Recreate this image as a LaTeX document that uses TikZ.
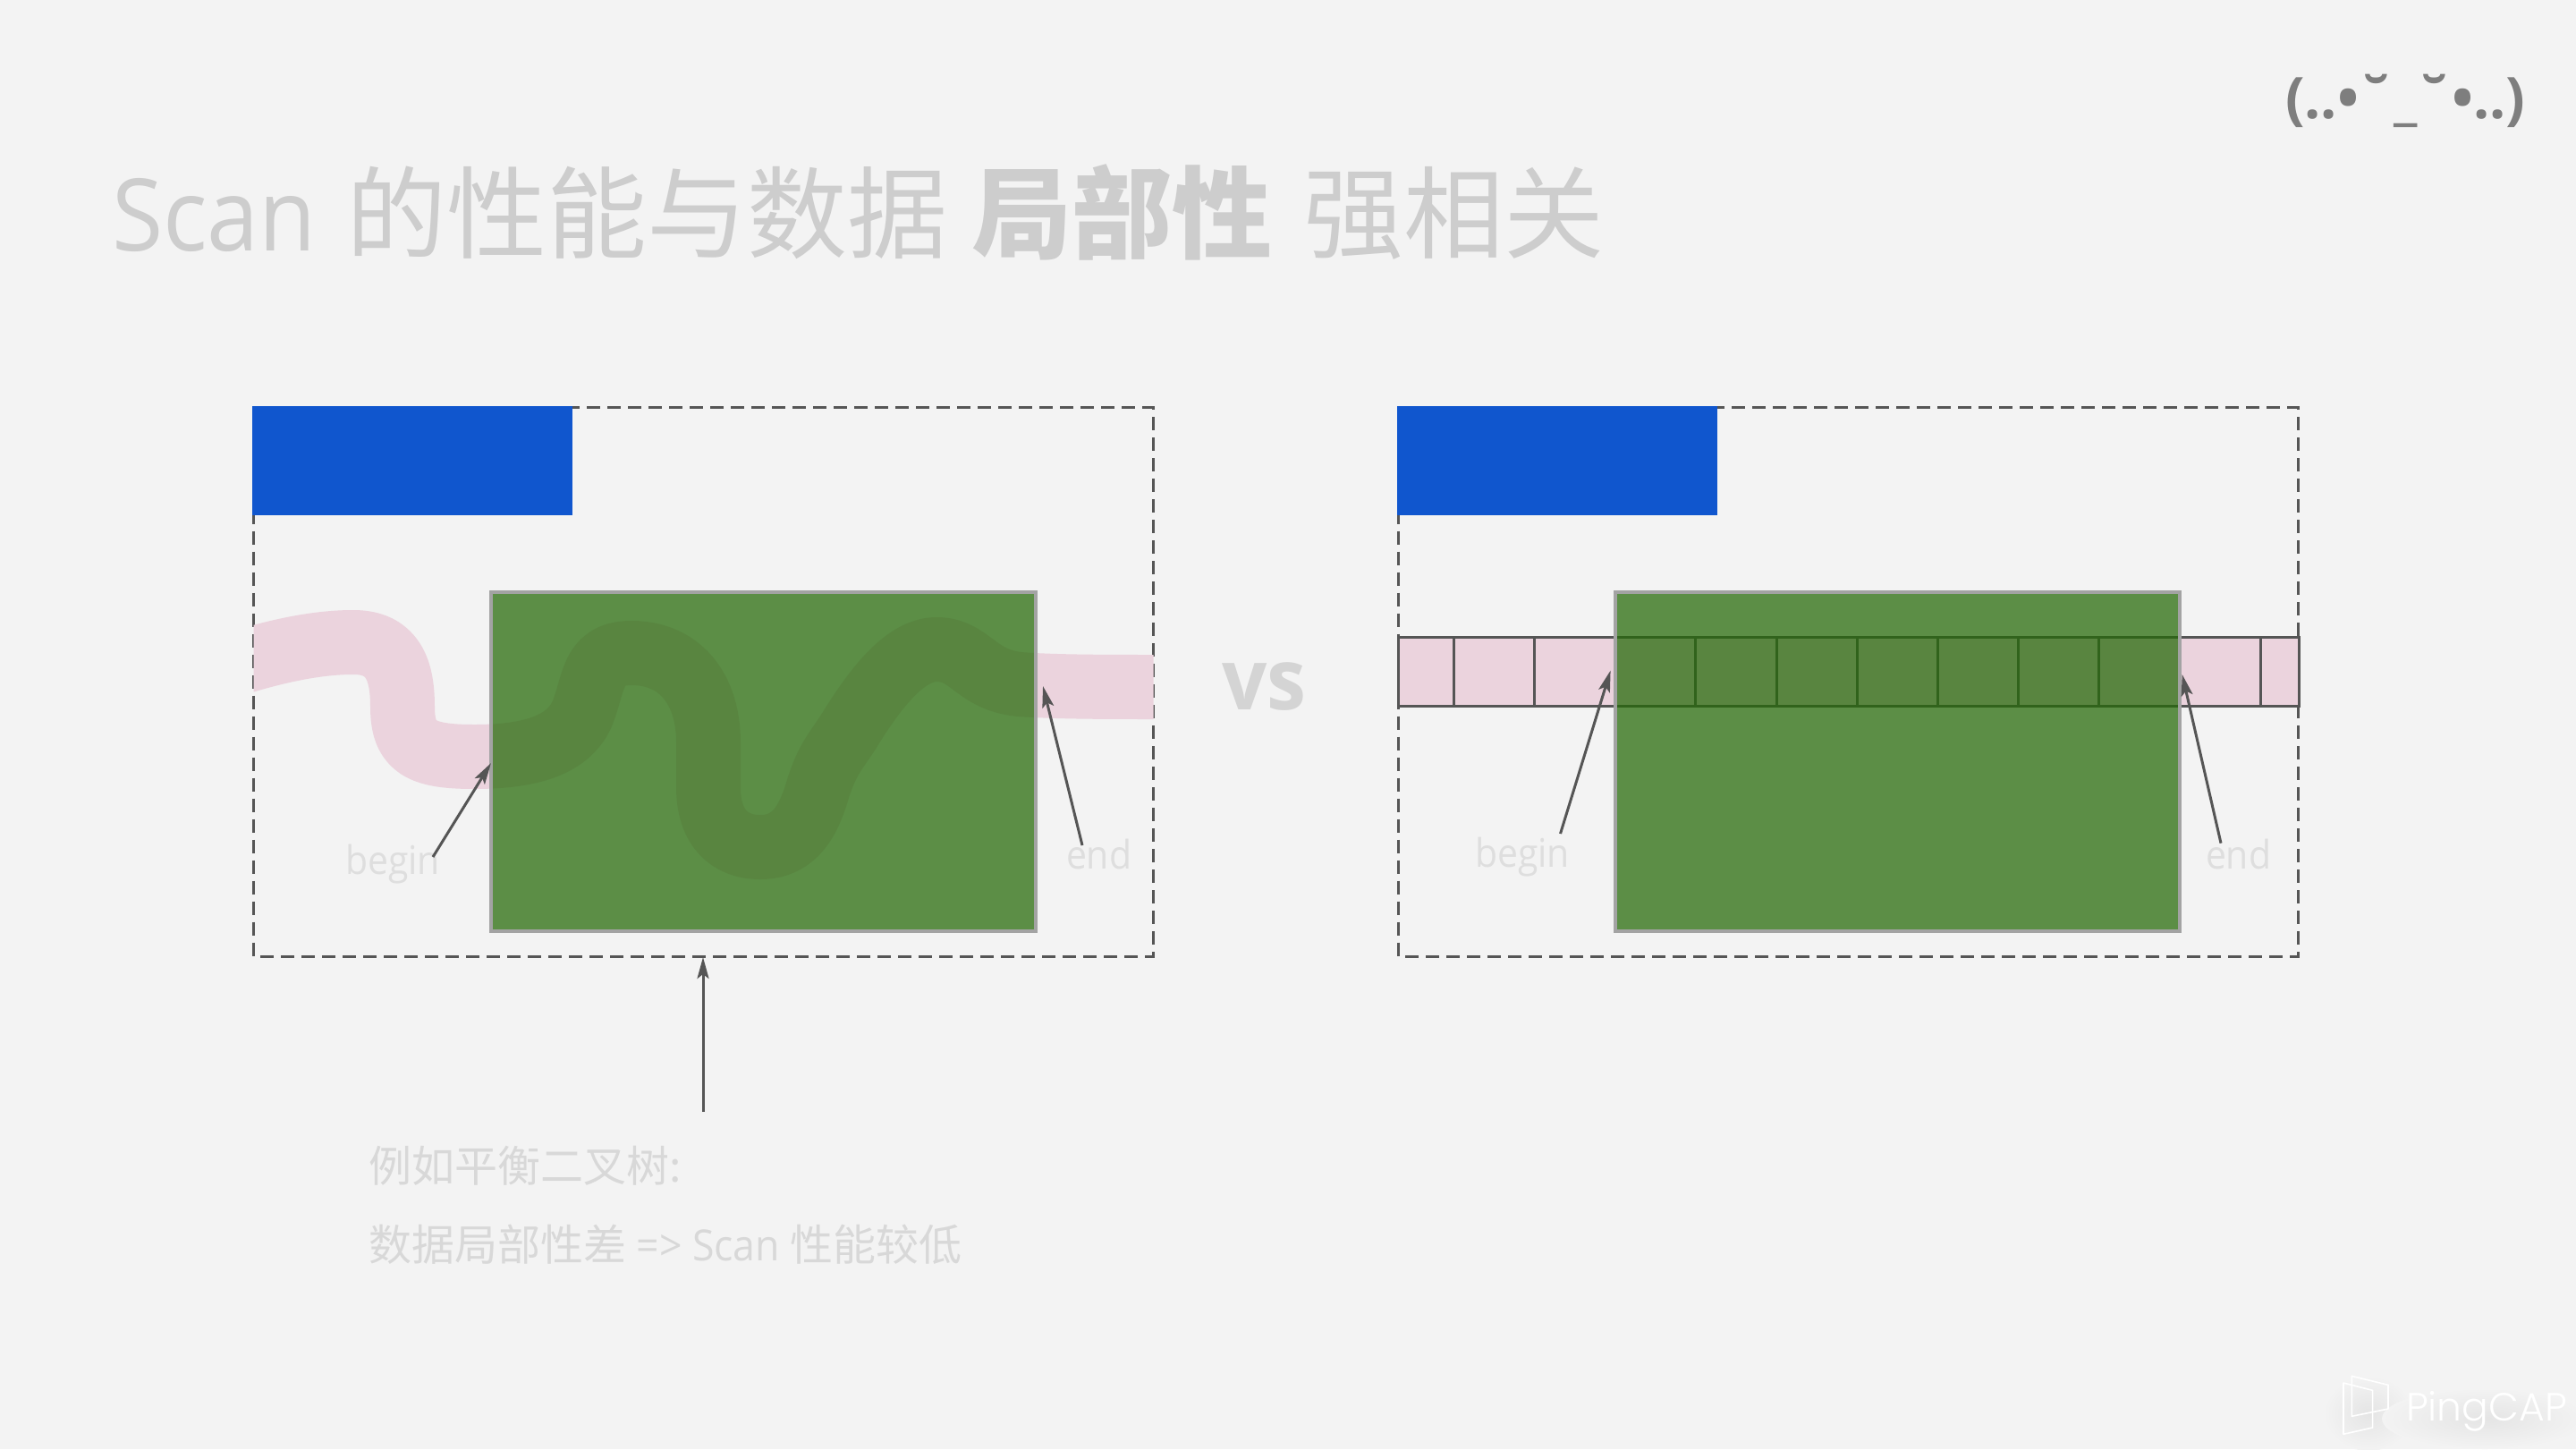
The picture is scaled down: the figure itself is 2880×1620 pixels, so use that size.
\documentclass[tikz,border=0pt]{standalone}
\usepackage{fontspec}
\setmainfont[FakeStretch=0.93]{Open Sans}
\newfontfamily\facefont{Open Sans}
\newfontfamily\cjk{Noto Sans CJK SC}
\newfontfamily\logofont{Poppins Light}
\usetikzlibrary{arrows.meta}
\definecolor{bgc}{HTML}{F3F3F3}
\definecolor{bluec}{HTML}{1056CE}
\definecolor{greenc}{HTML}{246907}
\definecolor{pinkc}{HTML}{EBD3DD}
\definecolor{linec}{HTML}{555555}
\definecolor{edgec}{HTML}{A3A3A3}
\definecolor{titlec}{HTML}{CDCDCD}
\definecolor{vsc}{HTML}{D4D4D4}
\definecolor{labelc}{HTML}{DEDEDE}
\definecolor{notec}{HTML}{D8D8D8}
\definecolor{facec}{HTML}{7E7E7E}
\tikzset{
  x=1pt,y=-1pt,
  bluebox/.style={fill=bluec,draw=none,inner sep=0pt,outer sep=0pt,anchor=north west,minimum width=358pt,minimum height=122pt},
  greenbox/.style={fill=greenc,fill opacity=.73,draw=none,inner sep=0pt,outer sep=0pt,anchor=north west},
  greenedge/.style={draw=edgec,line width=4pt},
  scopebox/.style={draw=linec,line width=3pt,dash pattern=on 15pt off 8pt},
  wave/.style={draw=pinkc,line width=72pt,line join=round},
  cellline/.style={draw=linec,line width=3pt},
  arr/.style={draw=linec,line width=3pt,-{Stealth[length=24pt,width=13pt,inset=5pt]}},
  txt/.style={inner sep=0pt,outer sep=0pt,anchor=base west},
  lab/.style={txt,text=labelc,font=\fontsize{44}{44}\selectfont},
  note/.style={txt,text=notec,font=\fontsize{48}{48}\selectfont},
}
\begin{document}
\begin{tikzpicture}
\useasboundingbox (0,0) rectangle (2880,1620);
\fill[bgc] (0,0) rectangle (2880,1620);

% title
\node[txt,text=titlec,font=\fontsize{112}{112}\selectfont] (title) at (125,280)
  {Scan\kern7pt{} {\cjk 的性能与数据} {\cjk\bfseries 局部性}\kern8pt{} {\cjk 强相关}};

% face
\node[txt,text=facec,font=\fontsize{64}{64}\selectfont\facefont\bfseries] (face) at (2555,132) {(..•˘\_˘•..)};

% left panel
\draw[scopebox] (283.5,455.5) rectangle (1289.5,1069);
\begin{scope}
\clip (283.5,600) rectangle (1289.5,1041);
\draw[wave] (270,740) .. controls (320,725) and (360,718) .. (395,718)
  .. controls (440,718) and (450,750) .. (450,790)
  .. controls (450,835) and (470,846) .. (530,846)
  .. controls (600,846) and (635,830) .. (650,800)
  .. controls (665,765) and (660,730) .. (706,730)
  .. controls (760,730) and (792,770) .. (792,830)
  -- (792,880)
  .. controls (792,925) and (815,947) .. (850,947)
  .. controls (890,947) and (905,915) .. (915,880)
  .. controls (925,850) and (932,843) .. (948,819)
  .. controls (975,775) and (1010,726) .. (1047,726)
  .. controls (1085,726) and (1090,760) .. (1140,765)
  .. controls (1180,768) and (1240,768) .. (1300,768);
\end{scope}
\node[bluebox] (blueL) at (282,454) {};
\node[greenbox,minimum width=608.2pt,minimum height=379pt] (greenL) at (549.4,662) {};
\draw[greenedge] (greenL.north west) rectangle (greenL.south east);

% right panel
\draw[scopebox] (1563.5,455.5) rectangle (2569.5,1069);
\node[fill=pinkc,draw=linec,line width=3pt,inner sep=0pt,outer sep=0pt,anchor=north west,minimum width=1006.5pt,minimum height=76.7pt] (strip) at (1563.5,712.8) {};
\foreach \cx in {1625.2,1715.4,1805.6,1895.8,1986,2076.2,2166.4,2256.6,2346.8,2437,2527.4}
  \draw[cellline] (\cx,712.8) -- (\cx,789.5);
\node[bluebox] (blueR) at (1562,454) {};
\node[greenbox,minimum width=631.5pt,minimum height=379pt] (greenR) at (1805.5,662) {};
\draw[greenedge] (greenR.north west) rectangle (greenR.south east);

% vs
\node[txt,text=vsc,font=\fontsize{95}{95}\selectfont\bfseries] (vs) at (1366,793) {vs};

% labels
\node[lab] (beginL) at (386,977) {begin};
\node[lab] (endL) at (1192,971) {end};
\node[lab] (beginR) at (1649,969) {begin};
\node[lab] (endR) at (2466,971) {end};
\node[note] (note1) at (412,1321) {\cjk 例如平衡二叉树:};
\node[note] (note2) at (412,1409) {{\cjk 数据局部性差} => Scan {\cjk 性能较低}};

% arrows
\coordinate (a1s) at (484,958);  \coordinate (a1e) at (549,853);
\coordinate (a2s) at (1210,945); \coordinate (a2e) at (1166,767);
\coordinate (a3s) at (786,1243); \coordinate (a3e) at (786,1070);
\coordinate (a4s) at (1744.5,932); \coordinate (a4e) at (1800.6,749.6);
\coordinate (a5s) at (2483,942.6); \coordinate (a5e) at (2439.7,754);
\draw[arr] (a1s) -- (a1e);
\draw[arr] (a2s) -- (a2e);
\draw[arr] (a3s) -- (a3e);
\draw[arr] (a4s) -- (a4e);
\draw[arr] (a5s) -- (a5e);

% logo
\shade[inner color=black!6!bgc,outer color=bgc] (2648,1580) ellipse [x radius=50,y radius=42];
\shade[inner color=black!6!bgc,outer color=bgc] (2778,1586) ellipse [x radius=115,y radius=34];
\draw[white,line width=1.6pt,line join=round] (2629.3,1538.3) -- (2670,1548.3) -- (2670,1575) -- (2629.3,1583.3) -- cycle;
\draw[white,line width=1.6pt,line join=round] (2620,1546) -- (2652.6,1554.3) -- (2652.6,1596) -- (2620,1603.3) -- cycle;
\node[txt,text=white,font=\fontsize{44}{44}\selectfont\logofont] (logo) at (2690,1588) {PingCAP};
\end{tikzpicture}
\end{document}
